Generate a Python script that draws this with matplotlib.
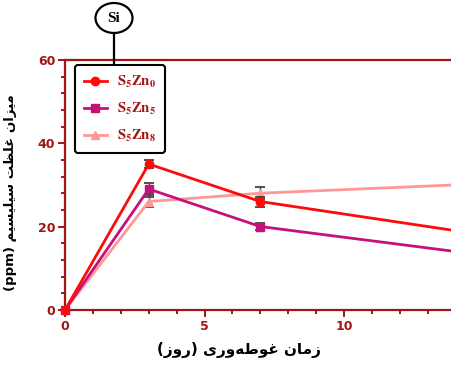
import matplotlib
matplotlib.use("Agg")
import matplotlib.pyplot as plt
from matplotlib.patches import Ellipse
from matplotlib.ticker import MultipleLocator

# ---------------- data ----------------
days = [0, 3, 7, 14]
s5zn0 = [0, 35, 26, 19]
s5zn0_err = [0, 1.0, 1.2, 1.0]
s5zn5 = [0, 29, 20, 14]
s5zn5_err = [0, 1.5, 0.8, 1.0]
s5zn8 = [0, 26, 28, 30]
s5zn8_err = [0, 1.2, 1.5, 1.0]
labels = [r"$\mathbf{S_5Zn_0}$", r"$\mathbf{S_5Zn_5}$", r"$\mathbf{S_5Zn_8}$"]
x_ticks = [0, 5, 10]
y_ticks = [0, 20, 40, 60]
ylabel_fa = "میزان غلظت سیلیسیم"
ylabel_unit = "(ppm)"
xlabel_fa = "زمان غوطه‌وری (روز)"
title_box = "Si"

# ------------- minimal Arabic-script shaping (visual order) -------------
FORMS = {  # isolated, final, initial, medial
    "ا": ("\uFE8D", "\uFE8E", None, None),
    "ت": ("\uFE95", "\uFE96", "\uFE97", "\uFE98"),
    "ر": ("\uFEAD", "\uFEAE", None, None),
    "ز": ("\uFEAF", "\uFEB0", None, None),
    "س": ("\uFEB1", "\uFEB2", "\uFEB3", "\uFEB4"),
    "ط": ("\uFEC1", "\uFEC2", "\uFEC3", "\uFEC4"),
    "ظ": ("\uFEC5", "\uFEC6", "\uFEC7", "\uFEC8"),
    "غ": ("\uFECD", "\uFECE", "\uFECF", "\uFED0"),
    "ل": ("\uFEDD", "\uFEDE", "\uFEDF", "\uFEE0"),
    "م": ("\uFEE1", "\uFEE2", "\uFEE3", "\uFEE4"),
    "ن": ("\uFEE5", "\uFEE6", "\uFEE7", "\uFEE8"),
    "ه": ("\uFEE9", "\uFEEA", "\uFEEB", "\uFEEC"),
    "و": ("\uFEED", "\uFEEE", None, None),
    "ی": ("\uFEEF", "\uFEF0", "\uFEF3", "\uFEF4"),
}


def shape(text):
    chars = list(text)
    out = []
    for i, c in enumerate(chars):
        if c not in FORMS:
            if c != "\u200c":
                out.append(c)
            continue
        prev = chars[i - 1] if i > 0 else None
        nxt = chars[i + 1] if i + 1 < len(chars) else None
        join_prev = prev in FORMS and FORMS[prev][2] is not None
        join_next = nxt in FORMS and FORMS[c][2] is not None
        iso, fin, ini, med = FORMS[c]
        if join_prev and join_next:
            out.append(med)
        elif join_prev:
            out.append(fin)
        elif join_next:
            out.append(ini)
        else:
            out.append(iso)
    vis = "".join(reversed(out))
    return vis.translate(str.maketrans("()", ")("))


# ---------------- figure ----------------
dark_red = "#a31515"
c0, c5, c8 = "#ff0a0a", "#c4127a", "#ff9797"

fig = plt.figure(figsize=(4.52, 3.65), dpi=100)
ax = fig.add_axes([0.144, 0.151, 1.0 - 0.144, 0.685])

common = dict(lw=2.0, capsize=3.5, ecolor="#333333", elinewidth=1.0,
              capthick=1.2, clip_on=False)
l0 = ax.errorbar(days, s5zn0, yerr=s5zn0_err, color=c0, marker="o", ms=6,
                 zorder=5, **common)
l5 = ax.errorbar(days, s5zn5, yerr=s5zn5_err, color=c5, marker="s", ms=6,
                 zorder=4, **common)
l8 = ax.errorbar(days, s5zn8, yerr=s5zn8_err, color=c8, marker="^", ms=6,
                 zorder=3, **common)
for cont in (l0, l5, l8):
    for art in cont.lines[1]:
        art.set_clip_on(True)
    for art in cont.lines[2]:
        art.set_clip_on(True)

ax.set_xlim(0, 13.87)
ax.set_ylim(0, 60)
ax.set_xticks(x_ticks)
ax.set_yticks(y_ticks)
ax.xaxis.set_minor_locator(MultipleLocator(1))
ax.yaxis.set_minor_locator(MultipleLocator(4))

for side in ("left", "bottom", "top"):
    ax.spines[side].set_color(dark_red)
    ax.spines[side].set_linewidth(1.6)
ax.spines["right"].set_visible(False)
ax.tick_params(which="both", colors=dark_red, direction="out", width=1.4)
ax.tick_params(which="major", length=5, labelsize=9, pad=2)
ax.tick_params(which="minor", length=3)
for lab in ax.get_xticklabels() + ax.get_yticklabels():
    lab.set_fontweight("bold")
    lab.set_color(dark_red)

ax.set_xlabel(shape(xlabel_fa), fontsize=11, fontweight="bold",
              fontfamily="DejaVu Sans", color="black")
ax.xaxis.set_label_coords(0.45, -0.13)
ax.set_ylabel(ylabel_unit + " " + shape(ylabel_fa), fontsize=9.5,
              fontweight="bold", fontfamily="DejaVu Sans", color="black")
ax.yaxis.set_label_coords(-0.125, 0.47)

plt.rcParams["mathtext.fontset"] = "stix"
leg = fig.legend([l0[0], l5[0], l8[0]], labels, loc="upper left",
                 bbox_to_anchor=(0.166, 0.822), frameon=True, fancybox=True,
                 edgecolor="black", fontsize=10.5, handlelength=1.6,
                 labelspacing=0.75, borderpad=0.6, handletextpad=0.7,
                 borderaxespad=0.0)
leg.get_frame().set_linewidth(1.5)
leg.get_frame().set_alpha(1)
for t in leg.get_texts():
    t.set_color(dark_red)

# "Si" ellipse with connector
fig.add_artist(plt.Line2D([114 / 452, 114 / 452], [1 - 33 / 365, 1 - 66 / 365],
                          transform=fig.transFigure, color="black", lw=1.6))
fig.add_artist(Ellipse((114 / 452, 1 - 18 / 365), 37 / 452, 30 / 365,
                       transform=fig.transFigure, facecolor="white",
                       edgecolor="black", lw=1.6))
fig.text(114 / 452, 1 - 18 / 365, title_box, ha="center", va="center",
         fontsize=11, fontweight="bold", fontfamily="Liberation Serif")

fig.savefig("out.png", dpi=100)
